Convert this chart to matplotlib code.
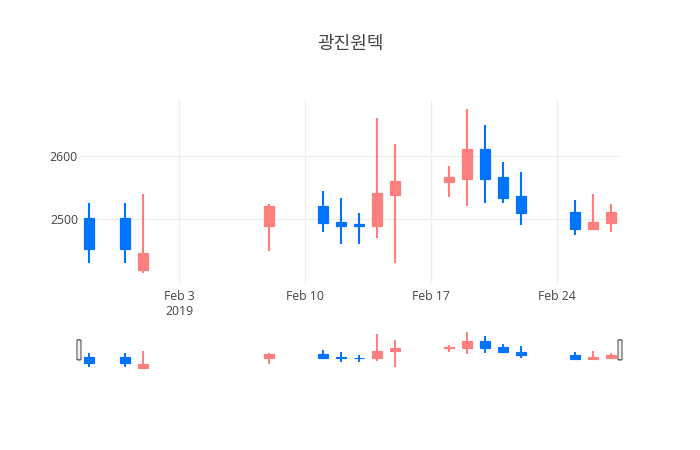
import matplotlib
matplotlib.use("Agg")
import matplotlib.pyplot as plt
import matplotlib.dates as mdates
from matplotlib.patches import FancyBboxPatch, Rectangle
import numpy as np
import pandas as pd

title = "광진원텍"
dates = ["2019-01-29", "2019-01-31", "2019-02-01", "2019-02-08", "2019-02-11",
         "2019-02-12", "2019-02-13", "2019-02-14", "2019-02-15", "2019-02-18",
         "2019-02-19", "2019-02-20", "2019-02-21", "2019-02-22", "2019-02-25",
         "2019-02-26", "2019-02-27"]
opens  = [2501, 2501, 2419, 2489, 2521, 2496, 2492, 2489, 2538, 2558, 2564, 2611, 2566, 2536, 2511, 2484, 2493]
highs  = [2525, 2525, 2540, 2524, 2544, 2534, 2509, 2660, 2619, 2584, 2675, 2650, 2590, 2575, 2530, 2540, 2524]
lows   = [2430, 2430, 2415, 2450, 2480, 2460, 2460, 2470, 2430, 2535, 2520, 2525, 2525, 2490, 2475, 2484, 2480]
closes = [2453, 2453, 2446, 2521, 2493, 2489, 2489, 2541, 2561, 2566, 2611, 2564, 2533, 2509, 2484, 2496, 2511]
y_ticks = [2500, 2600]
x_ticks = ["2019-02-03", "2019-02-10", "2019-02-17", "2019-02-24"]
x_tick_labels = ["Feb 3\n2019", "Feb 10", "Feb 17", "Feb 24"]

UP = "#ff7f7f"
DOWN = "#0074ff"
TXT = "#444444"

plt.rcParams['font.family'] = ['Open Sans', 'Noto Sans CJK KR', 'DejaVu Sans']

W, H = 700, 450
fig = plt.figure(figsize=(W / 100, H / 100), dpi=100)

def px_axes(x0, y0, x1, y1):
    return fig.add_axes([x0 / W, 1 - y1 / H, (x1 - x0) / W, (y1 - y0) / H])

ax = px_axes(80, 100, 620, 283)
axs = px_axes(80, 330, 620, 371)

xd = mdates.date2num(pd.to_datetime(dates))
xlo = mdates.date2num(pd.Timestamp("2019-01-28 12:00"))
xhi = mdates.date2num(pd.Timestamp("2019-02-27 12:00"))
ylo, yhi = 2398.4, 2689

def draw_candles(a, lw):
    bw = 0.6
    for x, o, h, l, c in zip(xd, opens, highs, lows, closes):
        col = UP if c >= o else DOWN
        a.plot([x, x], [l, h], color=col, lw=lw, solid_capstyle='butt', zorder=3)
        lo, hi = min(o, c), max(o, c)
        a.add_patch(Rectangle((x - bw / 2, lo), bw, max(hi - lo, 0.5),
                              facecolor=col, edgecolor=col, lw=lw * 0.6, zorder=4))

draw_candles(ax, 1.5)
draw_candles(axs, 1.4)

for a in (ax, axs):
    a.set_xlim(xlo, xhi)
    a.set_ylim(ylo, yhi)
    for s in a.spines.values():
        s.set_visible(False)

ax.set_yticks(y_ticks)
ax.set_yticklabels([str(v) for v in y_ticks])
ax.set_xticks(mdates.date2num(pd.to_datetime(x_ticks)))
ax.set_xticklabels(x_tick_labels, linespacing=1.25)
ax.tick_params(axis='both', length=0, labelsize=8.8, labelcolor=TXT)
ax.tick_params(axis='x', pad=5)
ax.tick_params(axis='y', pad=1.5)
ax.grid(True, color="#eeeeee", lw=1)
ax.set_axisbelow(True)

axs.set_xticks([])
axs.set_yticks([])

for xa in (-0.0056, 0.9963):
    axs.add_patch(FancyBboxPatch((xa, 0.27), 0.0074, 0.49,
                                 boxstyle="round,pad=0,rounding_size=0.004",
                                 transform=axs.transAxes, clip_on=False,
                                 facecolor="#f2f2f2", edgecolor="#444444", lw=0.7, zorder=6))

fig.text(350 / W, 1 - 44 / H, title, ha='center', va='center', fontsize=13,
         color=TXT, family=['Noto Sans CJK KR', 'DejaVu Sans'])

fig.savefig("out.png", dpi=100, facecolor="white")
